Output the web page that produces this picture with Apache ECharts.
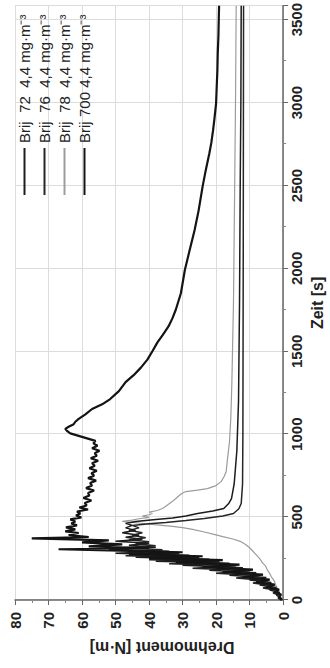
<!DOCTYPE html>
<html>
<head>
<meta charset="utf-8">
<title>Drehmoment</title>
<script src="https://cdn.jsdelivr.net/npm/echarts/dist/echarts.min.js"></script>
<style>
html, body {
	margin: 0;
	padding: 0;
	overflow: hidden;
	background: #fff;
}
/* das Diagramm liegt im Original quer, also gedreht */
#chartsId {
	position: absolute;
	left: 0;
	top: 0;
	width: 668px;
	height: 330px;
	transform-origin: 0 0;
	transform: translate(0, 668px) rotate(-90deg);
}
</style>
</head>
<body>
<div id="chartsId"></div>
<script>
var names = ['Brij 72', 'Brij 76', 'Brij 78', 'Brij 700'];
var nums = ['72', '76', '78', '700'];
var timeTicks = [0, 500, 1000, 1500, 2000, 2500, 3000, 3500];
var torqueTicks = [0, 10, 20, 30, 40, 50, 60, 70, 80];

// Brij 72
var t72 = [0, 15, 30, 45, 60, 75, 90, 105, 120, 135, 150, 165, 180, 195, 210, 222, 234, 246, 258, 270,
	282, 294, 306, 318, 330, 342, 354, 366, 378, 390, 405, 420, 435, 450, 462, 474, 486, 495, 507, 522,
	537, 552, 580, 612, 700, 900, 1200, 1800, 2500, 3000, 3584];
var v72 = [0.3, 0.8, 2, 1, 4, 2, 7, 3.5, 10, 5, 16, 8, 22, 12, 30, 16, 38, 22, 44, 28,
	50, 34, 52, 38, 46, 40, 50, 42, 47, 43, 48, 44, 47, 45, 47, 44, 38, 33, 29, 25.5,
	21, 17.7, 16.3, 15.4, 14.6, 13.8, 13.3, 13.0, 12.8, 12.6, 12.5];

// Brij 76
var t76 = [0, 12, 27, 42, 57, 72, 87, 102, 117, 132, 147, 162, 177, 192, 207, 219, 231, 243, 255, 267,
	279, 291, 303, 315, 327, 339, 351, 363, 375, 390, 405, 420, 435, 450, 460, 468, 480, 492, 507, 522,
	550, 582, 700, 1000, 2000, 3584];
var v76 = [0.5, 1.5, 0.8, 3, 1.5, 6, 3, 9, 4.5, 14, 7, 20, 10, 27, 14, 34, 19, 40, 25, 47,
	31, 40, 36, 48, 38, 44, 40, 46, 41, 45, 42, 46, 43, 45, 40, 35, 29, 23.5, 18, 14.8,
	13.2, 12.5, 12.1, 12.0, 11.9, 11.8];

// Brij 78
var t78 = [0, 30, 60, 90, 114, 140, 160, 185, 204, 225, 250, 272, 294, 315, 335, 354, 368, 382, 396, 410,
	426, 436, 444, 452, 460, 468, 474, 482, 490, 498, 506, 514, 522, 530, 540, 552, 565, 580, 595, 612,
	630, 645, 654, 663, 672, 690, 714, 745, 774, 850, 954, 1100, 1300, 1500, 1800, 2200, 2600, 3000, 3300, 3584];
var v78 = [0.5, 1, 1.5, 2.2, 2.6, 3.5, 4, 4.8, 5.2, 6.2, 7, 8, 9, 10, 11.2, 12.8, 15, 18, 20.6, 23.5,
	27, 30, 33, 37, 41, 45, 48, 45, 43, 40, 42, 40, 39, 40, 37.5, 36, 35, 34, 33, 32,
	31, 30, 29, 25.5, 22.6, 20, 18.5, 17.6, 17, 16.6, 16, 15.6, 15.3, 15.1, 14.8, 14.6, 14.4, 14.2, 14.1, 14];

// Brij 700
var t700 = [0, 18, 33, 48, 63, 78, 93, 108, 123, 138, 153, 168, 183, 198, 213, 228, 240, 252, 264, 276,
	288, 300, 306, 312, 324, 336, 348, 360, 372, 380, 392, 404, 414, 426, 438, 450, 462, 474, 486, 498,
	510, 522, 534, 546, 558, 570, 585, 600, 615, 630, 645, 660, 675, 690, 705, 720, 735, 750, 765, 780,
	795, 810, 825, 840, 855, 870, 885, 900, 915, 930, 945, 960, 975, 990, 1005, 1020, 1032, 1045, 1060, 1075,
	1092, 1120, 1152, 1180, 1212, 1260, 1314, 1356, 1400, 1450, 1500, 1554, 1596, 1650, 1700, 1752, 1850, 1992, 2100, 2232,
	2350, 2496, 2600, 2694, 2760, 2832, 2900, 2994, 3100, 3200, 3300, 3400, 3500, 3584];
var v700 = [0.4, 1.2, 0.6, 2.5, 1.2, 5, 2.5, 8, 4, 12, 6, 18, 9, 24, 13, 32, 18, 40, 24, 46,
	30, 55, 67, 40, 58, 48, 60, 52, 75, 58, 64, 61, 65, 62, 64.8, 61.5, 63.2, 62, 63.5, 60.2,
	61.8, 60.5, 61.5, 58.2, 60.8, 58.6, 59.2, 57.2, 59.6, 57.8, 58.2, 56.4, 58.8, 57, 57.6, 55.8, 58.2, 56.4, 57.2, 55.6,
	57.8, 56.2, 57, 55.2, 57.4, 55.6, 56.2, 54.8, 57, 55.4, 56.6, 56, 58.5, 61, 63.5, 64.5, 65, 64, 62.5, 62,
	61, 59, 57, 54, 51.6, 49, 47, 44.6, 42.5, 40.5, 39, 37.5, 36, 34.2, 33, 32, 30.5, 29.3, 28, 26.4,
	25.2, 24, 23, 22, 21.4, 20.9, 20.5, 20, 19.8, 19.6, 19.5, 19.3, 19.2, 19.1];

var times = [t72, t76, t78, t700];
var values = [v72, v76, v78, v700];
var colors = ['#1c1c1c', '#262626', '#9c9c9c', '#141414'];
var widths = [1.5, 1.5, 1.2, 2.2];

function pairs(t, v) {
	var out = [];
	for (var i = 0; i < t.length; i++) {
		out.push([t[i], v[i]]);
	}
	return out;
}

var myChart = echarts.init(document.getElementById('chartsId'), null, { renderer: 'svg' });

var series = [];
// grau zuerst, damit die schwarzen Kurven oben liegen
[2, 1, 0, 3].forEach(function (i) {
	series.push({
		name: names[i],
		type: 'line',
		showSymbol: false,
		symbol: 'none',
		animation: false,
		data: pairs(times[i], values[i]),
		itemStyle: { color: colors[i] },
		lineStyle: { color: colors[i], width: widths[i] }
	});
});

var option = {
	backgroundColor: '#fff',
	textStyle: { fontFamily: 'Liberation Sans, Arial, sans-serif' },
	grid: { left: 68, right: 0, top: 15, bottom: 38 },
	legend: {
		data: names,
		orient: 'vertical',
		left: 468,
		top: 12,
		icon: 'rect',
		itemWidth: 47,
		itemHeight: 2,
		itemGap: 5,
		formatter: function (name) {
			return '{a|Brij}{n|' + nums[names.indexOf(name)] + '}{u| 4,4 mg·m⁻³}';
		},
		textStyle: {
			color: '#222',
			fontSize: 15,
			rich: {
				a: { width: 26, fontSize: 15, lineHeight: 16, color: '#222' },
				n: { width: 25, align: 'right', fontSize: 15, lineHeight: 16, color: '#222' },
				u: { fontSize: 15, lineHeight: 16, color: '#222' }
			}
		}
	},
	xAxis: {
		type: 'value',
		min: timeTicks[0],
		max: 3584,
		interval: timeTicks[1] - timeTicks[0],
		name: 'Zeit [s]',
		nameLocation: 'middle',
		nameGap: 23,
		nameTextStyle: { fontSize: 16, fontWeight: 'bold', color: '#222' },
		axisLine: { show: true, lineStyle: { color: '#666', width: 1.5 } },
		axisTick: { show: true, length: 5, lineStyle: { color: '#666' } },
		minorTick: { show: true, splitNumber: 2, length: 3, lineStyle: { color: '#888' } },
		axisLabel: {
			showMaxLabel: false, fontSize: 15, fontWeight: 'bold', color: '#222', margin: 6,
			formatter: function (v) { return String(v); }
		},
		splitLine: { show: true, lineStyle: { color: '#dcdcdc', width: 1 } }
	},
	yAxis: {
		type: 'value',
		min: torqueTicks[0],
		max: torqueTicks[torqueTicks.length - 1],
		interval: torqueTicks[1] - torqueTicks[0],
		name: 'Drehmoment [N·m]',
		nameLocation: 'middle',
		nameGap: 32,
		nameTextStyle: { fontSize: 16, fontWeight: 'bold', color: '#222', padding: [0, 26, 0, 0] },
		axisLine: { show: true, lineStyle: { color: '#666', width: 1.5 } },
		axisTick: { show: true, length: 5, lineStyle: { color: '#666' } },
		minorTick: { show: true, splitNumber: 2, length: 3, lineStyle: { color: '#888' } },
		axisLabel: {
			fontSize: 15, fontWeight: 'bold', color: '#222', margin: 12,
			formatter: function (v) { return String(v); }
		},
		splitLine: { show: true, lineStyle: { color: '#dcdcdc', width: 1 } }
	},
	series: series
};
myChart.setOption(option);
</script>
</body>
</html>
